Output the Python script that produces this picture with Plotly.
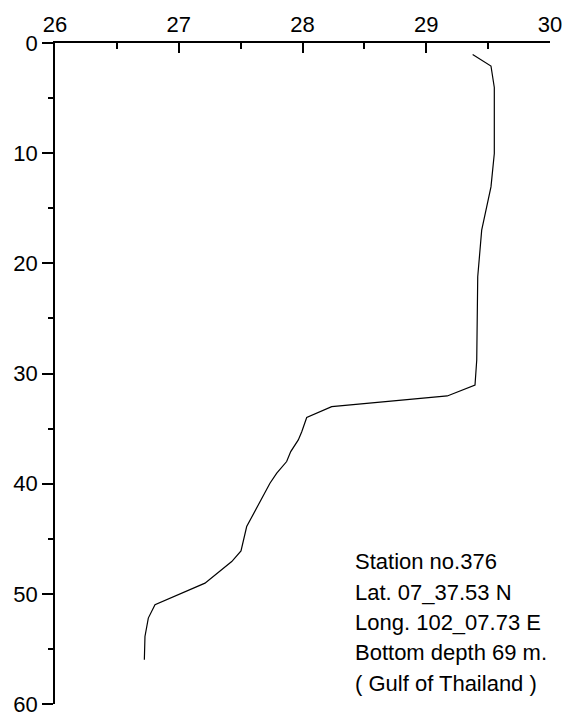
import plotly.graph_objects as go

temperature = [29.375, 29.523, 29.55, 29.55, 29.523, 29.448, 29.416, 29.408, 29.394, 29.17, 28.236,
               28.034, 27.994, 27.966, 27.905, 27.872, 27.792, 27.737, 27.549, 27.503, 27.428,
               27.212, 26.808, 26.754, 26.727, 26.722]
depth = [1.05, 2.09, 4.04, 10.03, 13.06, 16.99, 21.22, 28.77, 31.04, 32.04, 33.01,
         34.0, 35.28, 36.03, 37.09, 37.99, 39.05, 39.96, 43.89, 46.1, 47.07,
         49.03, 50.99, 52.2, 53.87, 55.98]

info_lines = ["Station no.376", "Lat. 07_37.53 N", "Long. 102_07.73 E",
              "Bottom depth 69 m.", "( Gulf of Thailand )"]
info_depths = [47.1, 49.9, 52.6, 55.3, 58.1]

font = dict(family="Liberation Sans, Arial", size=22, color="black")

fig = go.Figure()
fig.add_trace(go.Scatter(x=temperature, y=depth, mode="lines",
                         line=dict(color="black", width=1.2), showlegend=False))

for t, d in zip(info_lines, info_depths):
    fig.add_annotation(x=28.406, y=d, xref="x", yref="y", text=t, showarrow=False,
                       xanchor="left", yanchor="middle", font=font)

fig.update_layout(
    template="none",
    width=571, height=717,
    margin=dict(l=55, r=21, t=43, b=13, autoexpand=False),
    paper_bgcolor="white", plot_bgcolor="white",
    font=font,
    xaxis=dict(range=[26, 30], side="top", showline=True, linecolor="black", linewidth=1.5,
               ticks="inside", ticklen=10, tickwidth=1.5, tickcolor="black",
               dtick=1, tick0=26, showgrid=False, zeroline=False, automargin=False,
               minor=dict(dtick=0.5, tick0=26, ticks="inside", ticklen=6, tickwidth=1.5,
                          tickcolor="black", showgrid=False),
               tickfont=font),
    yaxis=dict(range=[60, 0], showline=True, linecolor="black", linewidth=1.5,
               ticks="outside", ticklen=11, tickwidth=1.5, tickcolor="black",
               dtick=10, tick0=0, showgrid=False, zeroline=False, automargin=False,
               minor=dict(dtick=5, tick0=0, ticks="outside", ticklen=5, tickwidth=1.5,
                          tickcolor="black", showgrid=False),
               tickfont=font),
)

fig.write_html("out.html", config={"displayModeBar": False},
               post_script="document.body.style.margin='0px';document.body.style.overflow='hidden';")
